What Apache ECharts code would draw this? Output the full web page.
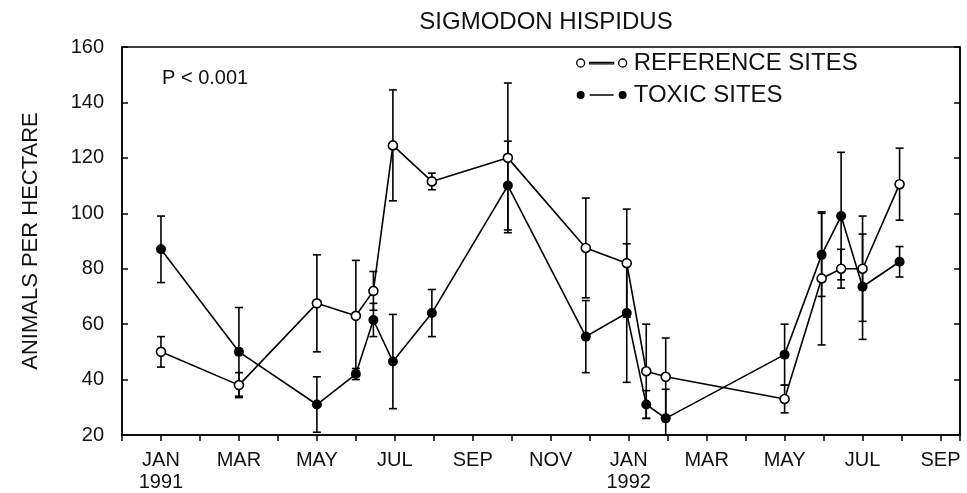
<!DOCTYPE html>
<html>
<head>
<meta charset="utf-8">
<script src="https://cdn.jsdelivr.net/npm/echarts@6/dist/echarts.min.js"></script>
<style>
  html, body { margin: 0; padding: 0; background: #fff; }
  #chart { width: 967px; height: 493px; }
</style>
</head>
<body>
<div id="chart"></div>
<script>
// months counted from JAN 1991 (0 = Jan 1991, 12 = Jan 1992)
const sampleMonths = [0, 2, 4, 5, 5.45, 5.95, 6.95, 8.9, 10.9, 11.95, 12.45, 12.95, 16, 16.95, 17.45, 18, 18.95];
const refValues = [50, 38, 67.5, 63, 72, 124.5, 111.5, 120, 87.5, 82, 43, 41, 33, 76.5, 80, 80, 110.5];
const refErrors = [5.5, 4.5, 17.5, 20, 7, 20, 3, 27, 18, 19.5, 17, 14, 5, 24, 7, 19, 13];
const toxicValues = [87, 50, 31, 42, 61.5, 46.5, 64, 110, 55.5, 64, 31, 26, 49, 85, 99, 73.5, 82.5];
const toxicErrors = [12, 16, 10, 2, 6, 17, 8.5, 16, 13, 25, 5, 10.5, 11, 15, 23, 19, 5.5];
// one label every second month, starting at JAN 1991
const tickLabels = ["JAN\n1991", "MAR", "MAY", "JUL", "SEP", "NOV", "JAN\n1992", "MAR", "MAY", "JUL", "SEP"];

const FONT = "Liberation Sans";
const chart = echarts.init(document.getElementById("chart"));

function pairs(values) {
  return sampleMonths.map((m, i) => [m, values[i]]);
}

function errorData(values, errors) {
  return sampleMonths.map((m, i) => [m, values[i] - errors[i], values[i] + errors[i]]);
}

function renderErrorBar(params, api) {
  const x = api.value(0);
  const lo = api.coord([x, api.value(1)]);
  const hi = api.coord([x, api.value(2)]);
  const w = 4;
  const style = { stroke: "#000", lineWidth: 1.6 };
  return {
    type: "group",
    children: [
      { type: "line", shape: { x1: lo[0], y1: lo[1], x2: hi[0], y2: hi[1] }, style: style },
      { type: "line", shape: { x1: hi[0] - w, y1: hi[1], x2: hi[0] + w, y2: hi[1] }, style: style },
      { type: "line", shape: { x1: lo[0] - w, y1: lo[1], x2: lo[0] + w, y2: lo[1] }, style: style },
    ],
  };
}

// circle - line - circle, like the old plotter legend
const legendIcon =
  "path://M0,4.5a4,4 0 1,0 8,0a4,4 0 1,0 -8,0Z M13,3.8h24v1.5h-24Z M42,4.5a4,4 0 1,0 8,0a4,4 0 1,0 -8,0Z";

const option = {
  backgroundColor: "#fff",
  animation: false,
  title: {
    text: "SIGMODON HISPIDUS",
    left: 541,
    top: 5,
    textAlign: "center",
    textStyle: { fontFamily: FONT, fontSize: 24, fontWeight: "normal", color: "#111" },
  },
  legend: {
    orient: "vertical",
    left: 571,
    top: 46,
    itemWidth: 50,
    itemHeight: 9,
    itemGap: 8,
    textStyle: { fontFamily: FONT, fontSize: 24, color: "#111", padding: [0, 0, 0, 2] },
    data: [
      { name: "REFERENCE SITES", icon: legendIcon, itemStyle: { color: "#fff", borderColor: "#000", borderWidth: 1.3 } },
      { name: "TOXIC SITES", icon: legendIcon, itemStyle: { color: "#000", borderWidth: 0 } },
    ],
  },
  grid: { left: 122, right: 7, top: 47, bottom: 57, show: true, borderColor: "#000", borderWidth: 1.5 },
  xAxis: {
    type: "value",
    min: -1,
    max: 20.5,
    interval: 1,
    splitLine: { show: false },
    axisLine: { onZero: false, lineStyle: { color: "#000", width: 1.5 } },
    axisTick: { show: true, length: 6, inside: false, lineStyle: { color: "#000", width: 1.5 } },
    axisLabel: {
      margin: 14,
      fontFamily: FONT,
      fontSize: 20,
      lineHeight: 22,
      color: "#111",
      formatter: (v) => (Number.isInteger(v) && v >= 0 && v % 2 === 0 ? tickLabels[v / 2] || "" : ""),
    },
  },
  yAxis: [
    {
      type: "value",
      min: 20,
      max: 160,
      interval: 20,
      name: "ANIMALS PER HECTARE",
      nameLocation: "middle",
      nameGap: 80,
      nameTextStyle: { fontFamily: FONT, fontSize: 22, color: "#111" },
      splitLine: { show: false },
      axisLine: { show: true, onZero: false, lineStyle: { color: "#000", width: 1.5 } },
      axisTick: { show: true, inside: true, length: 6, lineStyle: { color: "#000", width: 1.5 } },
      axisLabel: { margin: 18, fontFamily: FONT, fontSize: 20, color: "#111" },
    },
    {
      type: "value",
      min: 20,
      max: 160,
      interval: 20,
      position: "right",
      splitLine: { show: false },
      axisLine: { show: true, onZero: false, lineStyle: { color: "#000", width: 1.5 } },
      axisTick: { show: true, inside: true, length: 6, lineStyle: { color: "#000", width: 1.5 } },
      axisLabel: { show: false },
    },
  ],
  graphic: [
    {
      type: "text",
      left: 162,
      top: 68,
      style: { text: "P < 0.001", fontFamily: FONT, fontSize: 20, fill: "#111" },
    },
  ],
  series: [
    {
      type: "custom",
      name: "ref-err",
      renderItem: renderErrorBar,
      data: errorData(refValues, refErrors),
      encode: { x: 0, y: [1, 2] },
      clip: true,
      z: 1,
    },
    {
      type: "custom",
      name: "toxic-err",
      renderItem: renderErrorBar,
      data: errorData(toxicValues, toxicErrors),
      encode: { x: 0, y: [1, 2] },
      clip: true,
      z: 1,
    },
    {
      type: "line",
      name: "REFERENCE SITES",
      data: pairs(refValues),
      symbol: "circle",
      symbolSize: 9,
      lineStyle: { color: "#000", width: 1.6 },
      itemStyle: { color: "#fff", borderColor: "#000", borderWidth: 1.6 },
      z: 3,
    },
    {
      type: "line",
      name: "TOXIC SITES",
      data: pairs(toxicValues),
      symbol: "circle",
      symbolSize: 10,
      lineStyle: { color: "#000", width: 1.6 },
      itemStyle: { color: "#000" },
      z: 3,
    },
  ],
};

chart.setOption(option);
</script>
</body>
</html>
